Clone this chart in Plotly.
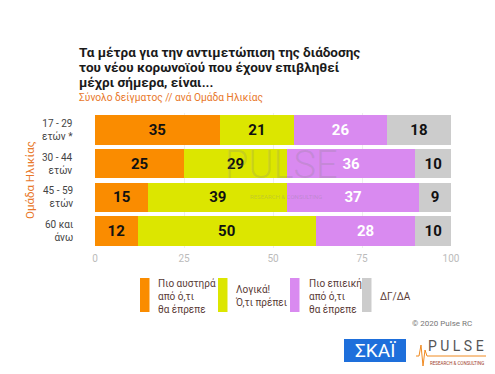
import plotly.graph_objects as go

categories = ["17 - 29<br>ετών *", "30 - 44<br>ετών", "45 - 59<br>ετών", "60 και<br>άνω"]
series_names = ["Πιο αυστηρά<br>από ό,τι<br>θα έπρεπε", "Λογικά!<br>Ό,τι πρέπει", "Πιο επιεική<br>από ό,τι<br>θα έπρεπε", "ΔΓ/ΔΑ"]
stricter = [35, 25, 15, 12]
reasonable = [21, 29, 39, 50]
lenient = [26, 36, 37, 28]
dkna = [18, 10, 9, 10]
tick_vals = [0, 25, 50, 75, 100]

colors = ["#FA8C00", "#DCE600", "#D98AF0", "#CCCCCC"]
text_colors = ["#111111", "#111111", "#FFFFFF", "#111111"]

OFF = 8  # page body margin
W, H = 495 - 2 * OFF, 374 - 2 * OFF
ml, mr, mt, mb = 87, 36, 105, 118
pw, ph = W - ml - mr, H - mt - mb

def px(x):
    return (x - OFF - ml) / pw

def py(y):
    return (H - mb - (y - OFF)) / ph

fig = go.Figure()
for name, vals, c, tc in zip(series_names, [stricter, reasonable, lenient, dkna], colors, text_colors):
    fig.add_trace(go.Bar(
        y=categories, x=vals, orientation="h", name=name,
        marker=dict(color=c, line=dict(width=0)),
        text=[str(v) for v in vals], textposition="inside", insidetextanchor="middle",
        textfont=dict(family="Roboto", size=15, color=tc, weight="bold"),
        showlegend=False, hoverinfo="skip",
    ))

ann = []
shapes = []
# Category labels, right aligned
for cat in categories:
    ann.append(dict(text=cat, x=px(75), y=cat, xref="paper", yref="y", showarrow=False,
                    xanchor="right", yanchor="middle", align="right",
                    font=dict(family="Roboto", size=10, color="#444444")))
# Title
title_lines = ["Τα μέτρα για την αντιμετώπιση της διάδοσης", "του νέου κορωνοϊού που έχουν επιβληθεί", "μέχρι σήμερα, είναι..."]
for i, t in enumerate(title_lines):
    ann.append(dict(text="<b>" + t + "</b>", x=px(77), y=py(52 + i * 15.5), xref="paper", yref="paper",
                    xanchor="left", yanchor="middle", showarrow=False,
                    font=dict(family="Roboto", size=13.5, color="#1a1a1a")))
ann.append(dict(text="Σύνολο δείγματος // ανά Ομάδα Ηλικίας", x=px(77), y=py(98), xref="paper", yref="paper",
                xanchor="left", yanchor="middle", showarrow=False,
                font=dict(family="Roboto", size=10.2, color="#E8782A")))
# Y axis title
ann.append(dict(text="Ομάδα Ηλικίας", x=px(30), y=py(180), xref="paper", yref="paper", textangle=-90,
                showarrow=False, xanchor="center", yanchor="middle",
                font=dict(family="Roboto", size=11.5, color="#E8782A")))
# Watermark
ann.append(dict(text="PULSE", x=px(281), y=py(165), xref="paper", yref="paper", showarrow=False,
                font=dict(family="Roboto", size=38, color="rgba(130,130,130,0.22)", weight=300)))
ann.append(dict(text="RESEARCH & CONSULTING", x=px(286), y=py(196), xref="paper", yref="paper", showarrow=False,
                font=dict(family="Roboto", size=6, color="rgba(130,130,130,0.3)")))
# Legend
leg = [(140, 156), (218, 233), (290, 307), (362, 378)]
for (xs, xt), name, c in zip(leg, series_names, colors):
    shapes.append(dict(type="rect", xref="paper", yref="paper", x0=px(xs), x1=px(xs + 9.5),
                       y0=py(312), y1=py(278), fillcolor=c, line=dict(width=0)))
    ann.append(dict(text=name, x=px(xt), y=py(296), xref="paper", yref="paper", showarrow=False,
                    xanchor="left", yanchor="middle", align="left",
                    font=dict(family="Roboto", size=10, color="#5a3b36")))
# Copyright
ann.append(dict(text="© 2020 Pulse RC", x=px(474), y=py(323), xref="paper", yref="paper", showarrow=False,
                xanchor="right", yanchor="middle", font=dict(family="Roboto", size=8, color="#777777")))
# Logos
shapes.append(dict(type="rect", xref="paper", yref="paper", x0=px(344), x1=px(406), y0=py(362), y1=py(339),
                   fillcolor="#1E6FDB", line=dict(width=0)))
ann.append(dict(text="ΣΚΑΪ", x=px(375), y=py(350.5), xref="paper", yref="paper", showarrow=False,
                xanchor="center", yanchor="middle",
                font=dict(family="Roboto", size=19, color="white")))
ann.append(dict(text="P U L S E", x=px(486), y=py(346), xref="paper", yref="paper", showarrow=False,
                xanchor="right", yanchor="middle", font=dict(family="Roboto", size=14, color="#555555")))
ann.append(dict(text="RESEARCH & CONSULTING", x=px(486), y=py(363), xref="paper", yref="paper", showarrow=False,
                xanchor="right", yanchor="middle", font=dict(family="Roboto", size=4.5, color="#A0402A")))
shapes.append(dict(type="path", xref="paper", yref="paper",
                   path="M {} {} L {} {} L {} {} L {} {} L {} {} L {} {} L {} {}".format(
                       px(416), py(356), px(419), py(356), px(421), py(345), px(423), py(366),
                       px(425), py(350), px(427), py(356), px(486), py(356)),
                   line=dict(color="#F08A20", width=1)))

fig.update_layout(
    barmode="stack", bargap=0.12,
    width=W, height=H, margin=dict(l=ml, r=mr, t=mt, b=mb),
    paper_bgcolor="white", plot_bgcolor="white",
    xaxis=dict(range=[0, 100], tickvals=tick_vals, showgrid=True, gridcolor="#eeeeee", zeroline=False,
               tickfont=dict(family="Roboto", size=10, color="#bbbbbb"), fixedrange=True,
               ticklabelstandoff=3),
    yaxis=dict(autorange="reversed", showticklabels=False, ticks="", showgrid=False),
    annotations=ann, shapes=shapes, showlegend=False,
)
fig.write_html("out.html")
